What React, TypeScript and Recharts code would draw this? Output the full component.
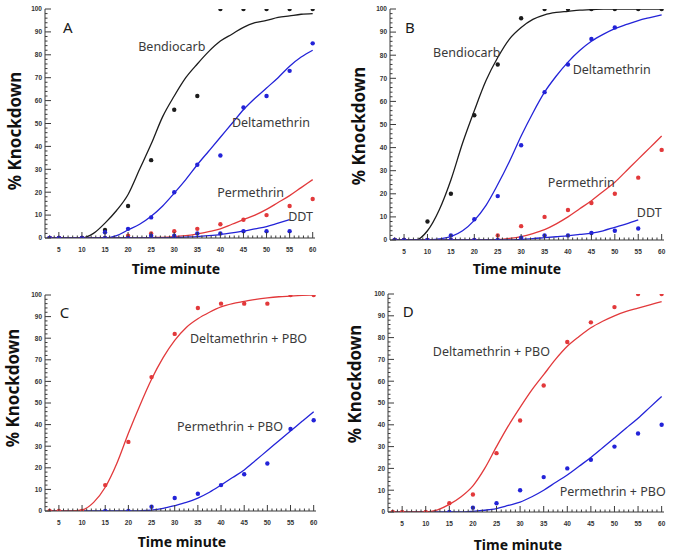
import { ComposedChart, Line, Scatter, XAxis, YAxis, ReferenceDot } from "recharts";

// observation times (minutes) and the times the fitted curves were read at
const times = [3, 5, 10, 15, 20, 25, 30, 35, 40, 45, 50, 55, 60];
const fitTimes = [3, 5, 7.5, 10, 12.5, 15, 17.5, 20, 22.5, 25, 27.5, 30, 32.5, 35, 37.5, 40, 42.5, 45, 47.5, 50, 52.5, 55, 57.5, 60];

const xTicks = Array.from({ length: 58 }, (_, i) => i + 3);
const yTicks = Array.from({ length: 51 }, (_, i) => i * 2);

// panel A
const aBendiocarbPts = [0, 0, 0, 3.5, 14, 34, 56, 62, 100, 100, 100, 100, 100];
const aDeltaPts = [0, 0, 0, 2.5, 4, 9, 20, 32, 36, 57, 62, 73, 85];
const aPermPts = [0, 0, 0, 0, 1, 2, 3, 4, 6, 8, 10, 14, 17];
const aDdtPts = [0, 0, 0, 0, 0, 1, 1, 2, 2, 3, 3, 3, null];
const aBendiocarbFit = [0, 0, 0, 0, 2, 6.5, 12, 19, 30, 41, 53, 62, 70, 76, 81.5, 86, 89, 92, 94, 95, 96.3, 97, 97.7, 98];
const aDeltaFit = [0, 0, 0, 0, 0, 0, 1, 3.5, 6, 9.5, 14, 19.6, 25.5, 32, 38, 44, 50, 56, 61, 65.5, 70, 75, 79, 82];
const aPermFit = [0, 0, 0, 0, 0, 0, 0, 0, 0, 0.2, 0.3, 0.6, 1, 1.8, 2.8, 4, 6, 8, 10, 12.5, 15.5, 18.5, 22, 25.5];
const aDdtFit = [0, 0, 0, 0, 0, 0, 0, 0, 0, 0, 0, 0.2, 0.4, 0.6, 1, 1.5, 2.2, 3, 4, 5, 6.5, 8, null, null];

// panel B
const bBendiocarbPts = [0, 0, 8, 20, 54, 76, 96, 100, 100, 100, 100, 100, 100];
const bDeltaPts = [0, 0, 0, 2, 9, 19, 41, 64, 76, 87, 92, null, null];
const bPermPts = [0, 0, 0, 0, 0, 2, 6, 10, 13, 16, 20, 27, 39];
const bDdtPts = [0, 0, 0, 0, 0, 0, 1, 2, 2, 3, 4, 5, null];
const bBendiocarbFit = [0, 0, 0, 4, 13, 26, 42, 56, 69, 79, 87, 92, 95.5, 97.5, 98.5, 99, 99.5, 99.7, 100, 100, 100, 100, 100, 100];
const bDeltaFit = [0, 0, 0, 0, 0.5, 1.5, 4, 8.5, 15, 24, 34, 45, 55, 64, 71, 77, 82, 86, 89, 91.5, 93.3, 95, 96.3, 97.5];
const bPermFit = [0, 0, 0, 0, 0, 0, 0, 0, 0, 0.2, 0.7, 1.5, 2.8, 4.5, 7, 10, 13.5, 17, 21, 25, 30, 35, 40, 45];
const bDdtFit = [0, 0, 0, 0, 0, 0, 0, 0, 0, 0, 0, 0.3, 0.6, 1, 1.4, 1.8, 2.4, 3, 4, 5.5, 7, 8.7, null, null];

// panel C
const cDeltaPboPts = [0, 0, 0, 12, 32, 62, 82, 94, 96, 96, 96, 100, 100];
const cPermPboPts = [null, null, null, 0, 0, 2, 6, 8, 12, 17, 22, 38, 42];
const cDeltaPboFit = [0, 0, 0, 0.5, 4, 11, 22, 36, 49, 61, 71, 79, 85, 89, 92, 94.5, 96, 97, 98, 98.7, 99.2, 99.5, 99.8, 100];
const cPermPboFit = [0, 0, 0, 0, 0, 0, 0, 0, 0.1, 0.4, 1.2, 2.5, 4, 6, 8.7, 12, 15.5, 19, 23.5, 28, 32.5, 37, 41.5, 46];

// panel D
const dDeltaPboPts = [0, 0, 0, 4, 8, 27, 42, 58, 78, 87, 94, 100, 100];
const dPermPboPts = [null, null, null, 0, 2, 4, 10, 16, 20, 24, 30, 36, 40];
const dDeltaPboFit = [0, 0, 0, 0, 1, 3.5, 7, 12, 20, 30, 39.5, 48, 56, 63, 70, 76, 80.5, 84.5, 87.5, 90, 92, 93.5, 95, 96.5];
const dPermPboFit = [0, 0, 0, 0, 0, 0, 0, 0.3, 0.8, 1.6, 3, 4.5, 7, 10, 13.5, 17, 21, 25, 29.5, 34, 38.5, 43, 48, 53];

const BLACK = "#1c1c1c";
const BLUE = "#2323d8";
const RED = "#e2393b";
const TICK = "#3a3a3a";

const pair = (xs: number[], vs: (number | null)[]) =>
  xs.map((t, i) => ({ t, v: vs[i] })).filter((d) => d.v !== null);

const bottomTick = (p: any) => {
  const major = p.payload.value % 5 === 0;
  return (
    <g>
      <line x1={p.x} y1={p.y} x2={p.x} y2={p.y - (major ? 6 : 2.5)} stroke={TICK} />
      {major && (
        <text x={p.x} y={p.y + 14} textAnchor="middle" fontSize={6.5} fontWeight="bold" fill="#333" fontFamily="Liberation Sans, Arial">
          {p.payload.value}
        </text>
      )}
    </g>
  );
};
const topTick = (p: any) => {
  const major = p.payload.value % 5 === 0;
  return <line x1={p.x} y1={p.y} x2={p.x} y2={p.y + (major ? 5 : 2.5)} stroke={TICK} />;
};
const leftTick = (p: any) => {
  const major = p.payload.value % 10 === 0;
  return (
    <g>
      <line x1={p.x} y1={p.y} x2={p.x + (major ? 6 : 2.5)} y2={p.y} stroke={TICK} />
      {major && (
        <text x={p.x - 3} y={p.y + 2.3} textAnchor="end" fontSize={6.5} fontWeight="bold" fill="#333" fontFamily="Liberation Sans, Arial">
          {p.payload.value}
        </text>
      )}
    </g>
  );
};
const rightTick = (p: any) => {
  const major = p.payload.value % 10 === 0;
  return <line x1={p.x} y1={p.y} x2={p.x - (major ? 6 : 2.5)} y2={p.y} stroke={TICK} />;
};

type Series = { fit: (number | null)[]; pts: (number | null)[]; color: string };
type Note = { t: number; v: number; text: string; size?: number };

function Panel(props: any) {
  const { left, top, width, height, margin, yAxisWidth, xAxisHeight, series, notes, yTitle, xTitle } = props;
  const ySize = 17;
  const xSize = 14;
  // titles are drawn on an overlay; positions are the centres of the text
  const yx = yTitle[0] + ySize * 0.36;
  const xy = xTitle[1] + xSize * 0.36;
  return (
    <div style={{ position: "absolute", left, top, width, height }}>
      <ComposedChart width={width} height={height} margin={margin}>
        <XAxis
          xAxisId="0"
          dataKey="t"
          type="number"
          domain={[2, 60.5]}
          allowDataOverflow
          ticks={xTicks}
          interval={0}
          tick={bottomTick}
          tickSize={0}
          tickMargin={0}
          tickLine={false}
          height={xAxisHeight}
          axisLine={{ stroke: TICK }}
        />
        <XAxis
          xAxisId="top"
          orientation="top"
          type="number"
          domain={[2, 60.5]}
          allowDataOverflow
          ticks={xTicks}
          interval={0}
          tick={topTick}
          tickSize={0}
          tickMargin={0}
          tickLine={false}
          height={0}
          axisLine={{ stroke: TICK }}
        />
        <YAxis
          yAxisId="0"
          dataKey="v"
          type="number"
          domain={[0, 100]}
          allowDataOverflow
          ticks={yTicks}
          interval={0}
          tick={leftTick}
          tickSize={0}
          tickMargin={0}
          tickLine={false}
          width={yAxisWidth}
          axisLine={{ stroke: TICK }}
        />
        <YAxis
          yAxisId="right"
          orientation="right"
          type="number"
          domain={[0, 100]}
          allowDataOverflow
          ticks={yTicks}
          interval={0}
          tick={rightTick}
          tickSize={0}
          tickMargin={0}
          tickLine={false}
          width={0}
          axisLine={{ stroke: TICK }}
        />
        {series.map((s: Series, i: number) => (
          <Line
            key={"l" + i}
            data={pair(fitTimes, s.fit)}
            dataKey="v"
            type="monotone"
            stroke={s.color}
            strokeWidth={1.3}
            dot={false}
            isAnimationActive={false}
          />
        ))}
        {series.map((s: Series, i: number) => (
          <Scatter
            key={"s" + i}
            data={pair(times, s.pts)}
            dataKey="v"
            fill={s.color}
            isAnimationActive={false}
            shape={(p: any) => <circle cx={p.cx} cy={p.cy} r={2.2} fill={s.color} />}
          />
        ))}
        {notes.map((n: Note, i: number) => (
          <ReferenceDot
            key={"n" + i}
            x={n.t}
            y={n.v}
            r={0}
            stroke="none"
            fill="none"
            label={{
              value: n.text,
              position: "right",
              offset: 0,
              fill: n.size ? "#1a1a1a" : "#3a3a3a",
              fontSize: n.size ?? 12.5,
              fontFamily: "Noto Sans, sans-serif",
            }}
          />
        ))}
      </ComposedChart>
      <svg
        width={width}
        height={height}
        style={{ position: "absolute", left: 0, top: 0, pointerEvents: "none", overflow: "visible" }}
      >
        <text
          x={yx}
          y={yTitle[1]}
          transform={`rotate(-90 ${yx} ${yTitle[1]})`}
          textAnchor="middle"
          fontFamily="Noto Sans, sans-serif"
          fontWeight="bold"
          fontSize={ySize}
          fill="#111"
        >
          % Knockdown
        </text>
        <text x={xTitle[0]} y={xy} textAnchor="middle" fontFamily="Noto Sans, sans-serif" fontWeight="bold" fontSize={xSize} fill="#111">
          Time minute
        </text>
      </svg>
    </div>
  );
}

export default function App() {
  return (
    <div style={{ position: "fixed", left: 0, top: 0, width: 685, height: 556, background: "#fff", overflow: "hidden" }}>
      <Panel
        left={0}
        top={0}
        width={335}
        height={280}
        margin={{ top: 9, right: 20, bottom: 0, left: 0 }}
        yAxisWidth={45}
        xAxisHeight={42}
        yTitle={[14.5, 131]}
        xTitle={[176, 269]}
        series={[
          { fit: aBendiocarbFit, pts: aBendiocarbPts, color: BLACK },
          { fit: aDeltaFit, pts: aDeltaPts, color: BLUE },
          { fit: aPermFit, pts: aPermPts, color: RED },
          { fit: aDdtFit, pts: aDdtPts, color: BLUE },
        ]}
        notes={[
          { t: 5.9, v: 91.7, text: "A", size: 15 },
          { t: 22.2, v: 83.4, text: "Bendiocarb" },
          { t: 42.5, v: 50.2, text: "Deltamethrin" },
          { t: 39.3, v: 19.7, text: "Permethrin" },
          { t: 54.7, v: 9.2, text: "DDT" },
        ]}
      />
      <Panel
        left={345}
        top={0}
        width={335}
        height={282}
        margin={{ top: 9, right: 16, bottom: 0, left: 0 }}
        yAxisWidth={45}
        xAxisHeight={42}
        yTitle={[14, 126]}
        xTitle={[172, 269]}
        series={[
          { fit: bBendiocarbFit, pts: bBendiocarbPts, color: BLACK },
          { fit: bDeltaFit, pts: bDeltaPts, color: BLUE },
          { fit: bPermFit, pts: bPermPts, color: RED },
          { fit: bDdtFit, pts: bDdtPts, color: BLUE },
        ]}
        notes={[
          { t: 5.2, v: 91.9, text: "B", size: 15 },
          { t: 11.2, v: 81, text: "Bendiocarb" },
          { t: 41, v: 73.7, text: "Deltamethrin" },
          { t: 35.7, v: 24.7, text: "Permethrin" },
          { t: 54.7, v: 11.7, text: "DDT" },
        ]}
      />
      <Panel
        left={0}
        top={284}
        width={335}
        height={270}
        margin={{ top: 11, right: 19, bottom: 0, left: 0 }}
        yAxisWidth={45}
        xAxisHeight={43}
        yTitle={[12.5, 104]}
        xTitle={[182, 257.5]}
        series={[
          { fit: cPermPboFit, pts: cPermPboPts, color: BLUE },
          { fit: cDeltaPboFit, pts: cDeltaPboPts, color: RED },
        ]}
        notes={[
          { t: 5.2, v: 91.7, text: "C", size: 15 },
          { t: 33.3, v: 80, text: "Deltamethrin + PBO" },
          { t: 30.5, v: 38.9, text: "Permethrin + PBO" },
        ]}
      />
      <Panel
        left={345}
        top={284}
        width={335}
        height={270}
        margin={{ top: 10, right: 16, bottom: 0, left: 0 }}
        yAxisWidth={43}
        xAxisHeight={42}
        yTitle={[10, 100]}
        xTitle={[173, 261]}
        series={[
          { fit: dPermPboFit, pts: dPermPboPts, color: BLUE },
          { fit: dDeltaPboFit, pts: dDeltaPboPts, color: RED },
        ]}
        notes={[
          { t: 5.1, v: 91.7, text: "D", size: 15 },
          { t: 11.5, v: 73.4, text: "Deltamethrin + PBO" },
          { t: 38.4, v: 9.6, text: "Permethrin + PBO" },
        ]}
      />
    </div>
  );
}
